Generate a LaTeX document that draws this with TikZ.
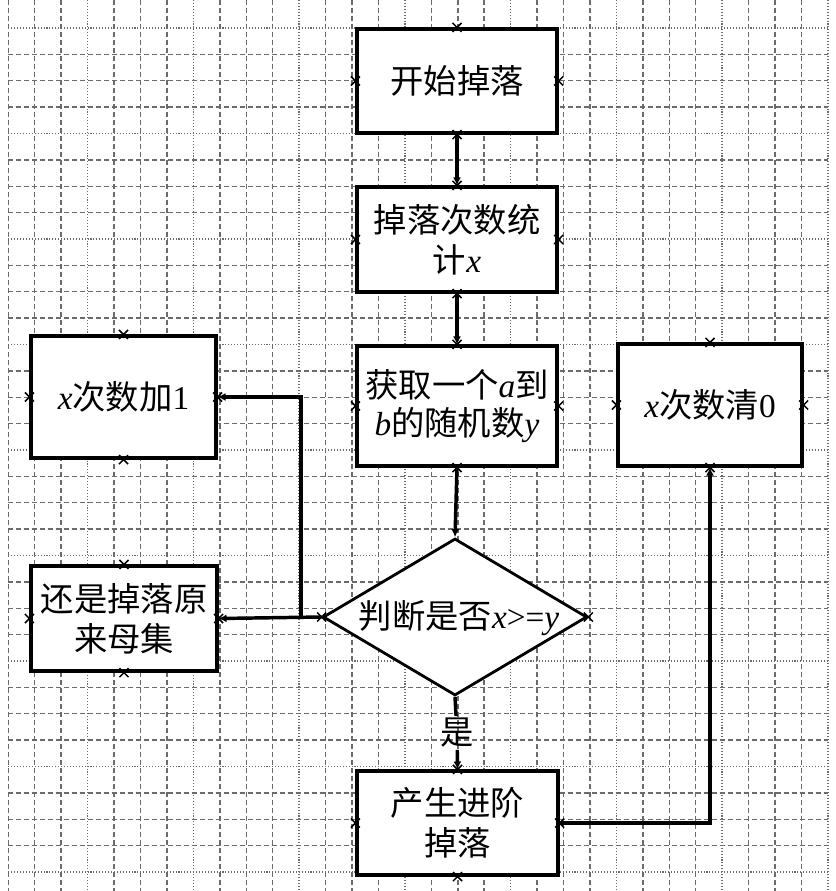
\documentclass[tikz,border=0pt]{standalone}
\usepackage{fontspec}
\setmainfont{Liberation Serif}
\newfontfamily\cjk{Noto Sans CJK SC}
\newcommand\boxfont{\cjk\fontsize{25}{30}\selectfont}
\newcommand\latit[1]{{\rmfamily\itshape #1}}
\newcommand\latrm[1]{{\rmfamily #1}}
\usetikzlibrary{arrows.meta,shapes.geometric}
\tikzset{
  gdash/.style={draw=black!58, line width=1.1pt, dash pattern=on 3.8pt off 2.2pt},
  gdot/.style={draw=black!58, line width=1.1pt, dash pattern=on 0.8pt off 1.4pt},
  box/.style={draw, line width=2.3pt, fill=white, inner sep=0pt, align=center, font=\boxfont},
  dia/.style={diamond, draw, line width=2.1pt, fill=white, inner sep=0pt, minimum width=198pt, minimum height=117.75pt},
  conn/.style={line width=2.6pt, -{Latex[length=6pt,width=6pt]}},
  xmark/.style={line width=1.1pt}
}
\begin{document}
\begin{tikzpicture}[x=0.75pt,y=-0.75pt]
\useasboundingbox (0,0) rectangle (835,891);
\fill[white] (0,0) rectangle (835,891);
% grid
\foreach \i in {0,...,31}{
  \pgfmathsetmacro\gx{8.3+26.44*\i}
  \pgfmathtruncatemacro\gm{mod(\i,4)}
  \ifnum\gm=3 \draw[gdot] (\gx,0) -- (\gx,891); \else \draw[gdash] (\gx,0) -- (\gx,891); \fi
}
\foreach \j in {0,...,32}{
  \pgfmathsetmacro\gy{28+26.375*\j}
  \pgfmathtruncatemacro\gm{mod(\j,4)}
  \ifnum\gm=0 \draw[gdot] (8.3,\gy) -- (828,\gy); \else \draw[gdash] (8.3,\gy) -- (828,\gy); \fi
}
% nodes
\node[box, minimum width=150pt, minimum height=78pt] (A) at (457,81) {开始掉落};
\node[box, minimum width=150pt, minimum height=78.75pt] (B) at (457,239.5) {掉落次数统\\计\latit{x}};
\node[box, minimum width=150pt, minimum height=90pt, font=\cjk\fontsize{25}{28}\selectfont] (C) at (457,406) {获取一个\latit{a}到\\\latit{b}的随机数\latit{y}};
\node[dia, label={[font=\boxfont, yshift=-1pt, xshift=3pt]center:判断是否\latit{x}\latrm{>=}\latit{y}}] (d) at (455,617) {};
\node[box, minimum width=138.75pt, minimum height=91.5pt] (D) at (123.5,397) {\latit{x}次数加\latrm{1}};
\node[box, minimum width=139.5pt, minimum height=78.75pt] (E) at (124,618.5) {还是掉落原\\来母集};
\node[box, minimum width=138pt, minimum height=91.5pt] (F) at (710,405) {\latit{x}次数清\latrm{0}};
\node[box, minimum width=150.75pt, minimum height=78pt] (G) at (457.5,823) {产生进阶\\掉落};
\node[font=\boxfont, inner sep=1.5pt] (yes) at (457,733) {是};
\coordinate (j) at (301,618);
% connectors
\draw[conn] (A.south) -- (B.north);
\draw[conn] (B.south) -- (C.north);
\draw[conn] (C.south) -- (d.north);
\draw[conn] (d.west) -- (E.east);
\draw[conn] (j) |- (D.east);
\draw[conn] (d.south) -- (yes) -- (G.north);
\draw[conn] (G.east) -| (F.south);
% connection markers
\foreach \p in {A.north,A.south,A.east,A.west,B.north,B.south,B.east,B.west,C.north,C.south,C.east,C.west,D.north,D.south,D.east,D.west,E.north,E.south,E.east,E.west,F.north,F.south,F.east,F.west,G.north,G.south,G.east,G.west,d.west,d.east}{
  \draw[xmark] (\p) ++(-4.5,-4.5) -- ++(9,9) ++(-9,0) -- ++(9,-9);
}
\end{tikzpicture}
\end{document}
